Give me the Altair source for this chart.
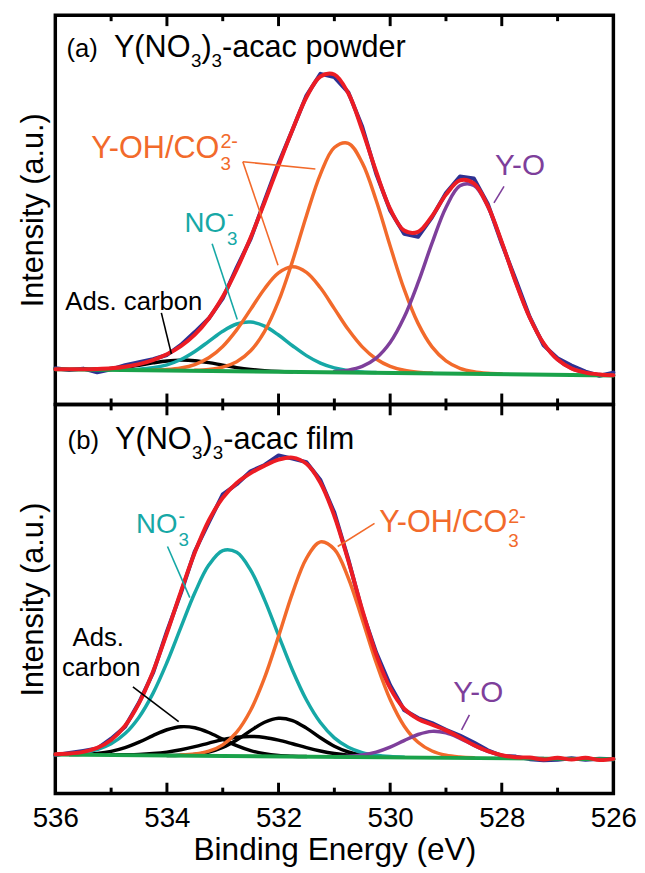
import altair as alt
import pandas as pd

FONT = "Liberation Sans"

# binding-energy sampling grid (eV) shared by every curve
ENERGY = [536.0, 535.75, 535.5, 535.25, 535.0, 534.75, 534.5, 534.25, 534.0,
          533.75, 533.5, 533.25, 533.0, 532.75, 532.5, 532.25, 532.0, 531.75,
          531.5, 531.25, 531.0, 530.75, 530.5, 530.25, 530.0, 529.75, 529.5,
          529.25, 529.0, 528.75, 528.5, 528.25, 528.0, 527.75, 527.5, 527.25,
          527.0, 526.75, 526.5, 526.25, 526.0]

# ---- (a) Y(NO3)3-acac powder -------------------------------------------
A_RAW = [8.7, 8.18, 8.58, 7.46, 8.37, 9.65, 10.55, 11.47, 12.71, 15.77, 19.68,
         23.79, 29.88, 39.27, 47.97, 59.62, 70.98, 81.09, 91.5, 98.1, 97.1,
         92.5, 82.02, 67.77, 56.59, 49.51, 48.63, 54.55, 61.92, 66.93, 66.32,
         58.58, 46.58, 35.6, 24.29, 15.63, 11.71, 9.53, 7.66, 6.41, 7.38]
A_FIT = [8.4, 8.38, 8.38, 8.46, 8.67, 9.15, 9.95, 11.17, 12.91, 15.37, 18.88,
         23.79, 30.38, 38.67, 48.37, 59.12, 70.28, 81.09, 91.0, 97.3, 97.9,
         92.2, 81.02, 68.37, 57.09, 50.51, 50.13, 54.85, 61.42, 65.73, 64.82,
         57.98, 46.98, 34.8, 24.09, 16.23, 11.31, 8.63, 7.36, 6.81, 6.58]
A_BG_E = [536.0, 526.0]
A_BG = [8.4, 6.5]
A_ADS_C = (535.5, [8.38, 8.45, 8.64, 9.04, 9.62, 10.31, 10.9, 11.16, 10.98, 10.4,
                   9.62, 8.88, 8.32, 7.96, 7.74, 7.62])
A_NO3 = (534.75, [8.27, 8.42, 8.83, 9.72, 11.34, 13.79, 16.85, 19.92, 22.12, 22.71,
                  21.46, 18.78, 15.52, 12.52, 10.25, 8.78, 7.97, 7.57, 7.38])
A_OH_1 = (534.25, [8.17, 8.32, 8.77, 9.82, 11.86, 15.31, 20.35, 26.56, 32.85, 37.63,
                   39.49, 37.82, 33.12, 26.8, 20.43, 15.19, 11.51, 9.27, 8.07, 7.5,
                   7.23])
A_OH_2 = (533.5, [8.08, 8.32, 9.02, 10.66, 14.0, 19.92, 29.05, 41.23, 55.01, 67.59,
                  75.72, 77.02, 71.06, 59.63, 45.82, 32.71, 22.31, 15.18, 10.93,
                  8.67, 7.62, 7.15, 6.95])
A_YO = (531.0, [7.7, 8.13, 9.28, 11.78, 16.5, 24.15, 34.66, 46.68, 57.53, 64.08,
                64.18, 57.76, 46.91, 34.78, 24.09, 16.23, 11.31, 8.63, 7.36, 6.81,
                6.58])

# ---- (b) Y(NO3)3-acac film ---------------------------------------------
B_RAW = [11.63, 12.32, 12.93, 13.63, 16.63, 20.25, 27.57, 36.5, 49.08, 60.66,
         73.36, 82.06, 90.56, 93.63, 97.59, 99.47, 102.38, 101.4, 100.32, 94.9,
         85.04, 70.91, 55.11, 42.68, 32.81, 25.32, 22.88, 21.36, 19.34, 17.58,
         15.49, 13.13, 11.42, 11.2, 10.42, 10.11, 10.24, 10.71, 10.27, 10.54, 10.4]
B_FIT = [11.93, 12.12, 12.63, 13.83, 16.23, 20.55, 27.37, 36.9, 48.58, 61.16,
         72.96, 82.66, 89.56, 94.03, 96.99, 99.27, 101.08, 101.7, 99.82, 94.1,
         84.04, 70.51, 55.61, 42.08, 31.91, 25.72, 22.58, 20.86, 19.14, 16.98,
         14.69, 12.83, 11.62, 11.0, 10.92, 10.31, 10.84, 10.31, 10.87, 10.14, 10.5]
B_BG_E = [536.0, 526.0]
B_BG = [11.8, 10.4]
B_ADS_C_1 = (535.75, [11.83, 11.9, 12.18, 12.78, 13.9, 15.56, 17.55, 19.32, 20.24,
                      19.92, 18.49, 16.47, 14.51, 13.0, 12.06, 11.55, 11.32, 11.2])
B_ADS_C_2 = (535.0, [11.71, 11.75, 11.85, 12.11, 12.55, 13.26, 14.2, 15.29, 16.32,
                     17.06, 17.31, 16.99, 16.18, 15.08, 13.92, 12.91, 12.13, 11.62,
                     11.29, 11.12, 11.01])
B_ADS_C_3 = (534.0, [11.56, 11.63, 11.88, 12.57, 13.96, 16.22, 19.05, 21.6, 22.82,
                     22.12, 19.82, 16.9, 14.32, 12.59, 11.63, 11.2, 11.02])
B_NO3 = (536.0, [11.91, 12.06, 12.45, 13.33, 15.06, 18.16, 23.13, 30.34, 39.68,
                 50.33, 60.79, 69.16, 73.57, 73.02, 67.63, 58.64, 47.9, 37.34,
                 28.32, 21.5, 16.87, 14.02, 12.42, 11.61, 11.2, 11.02])
B_OH = (533.75, [11.66, 11.97, 12.83, 14.76, 18.62, 25.24, 35.1, 47.59, 60.68,
                 71.23, 76.19, 73.96, 65.26, 52.71, 39.6, 28.47, 20.49, 15.55,
                 12.89, 11.6, 11.06, 10.83])
B_YO = (531.0, [11.16, 11.3, 11.68, 12.55, 14.05, 16.03, 17.89, 18.83, 18.36,
                16.71, 14.61, 12.81, 11.62, 11.0, 10.72, 10.61])

MAJOR_TICKS = [534, 532, 530, 528]
MINOR_TICKS = [535, 533, 531, 529, 527]
TICK_LABELS = [536, 534, 532, 530, 528, 526]

RED = "#EC1C24"
NAVY = "#2E3192"
ORANGE = "#F26A2B"
TEAL = "#16A8A6"
PURPLE = "#7E3F9B"
GREEN = "#1AA24A"
BLACK = "#000000"

W, H = 565, 394
X_SCALE = alt.Scale(domain=[536, 526], nice=False, zero=False)

TITLE_PT, SUB_PT = 31, 19


def component(spec):
    start, values = spec
    i0 = ENERGY.index(start)
    return pd.DataFrame({"E": ENERGY[i0:i0 + len(values)], "I": values})


def full(values):
    return pd.DataFrame({"E": ENERGY, "I": values})


def formula_title(e, i, tag, rest):
    """Panel heading '(x)  Y(NO3)3-...' with true subscripts."""
    return [
        (e + 0.85, i, tag, 26, BLACK, "left", 0, 0),
        (e, i, "Y(NO", TITLE_PT, BLACK, "left", 0, 0),
        (e, i, "3", SUB_PT, BLACK, "left", 78, 10),
        (e, i, ")", TITLE_PT, BLACK, "left", 88.6, 0),
        (e, i, "3", SUB_PT, BLACK, "left", 98.9, 10),
        (e, i, rest, TITLE_PT, BLACK, "left", 109.5, 0),
    ]


def stacked(e, i, main, sup, sub, size, color, i_sup, i_sub):
    """Label with a superscript stacked over a subscript after it."""
    return [
        (e, i, main, size, color, "right", 0, 0),
        (e, i_sup, sup, 20, color, "left", 1, 0),
        (e, i_sub, sub, 19, color, "left", 1, 0),
    ]


def panel(ydom, curves, labels, leaders, x_axis):
    ys = alt.Scale(domain=ydom, nice=False, zero=False)
    y_axis = alt.Axis(title="Intensity (a.u.)", labels=False, ticks=False,
                      domain=False, grid=False, titleFontSize=31,
                      titleFontWeight="normal", titleFont=FONT, titleColor=BLACK,
                      titleX=-22, titleY=H / 2, titleAngle=270,
                      titleAlign="center", titleBaseline="middle")
    X = lambda: alt.X("E:Q", scale=X_SCALE, axis=x_axis, title="Binding Energy (eV)")
    Y = lambda: alt.Y("I:Q", scale=ys, axis=y_axis)

    layers = []
    for df, color, width, interp in curves:
        layers.append(
            alt.Chart(df).mark_line(color=color, strokeWidth=width,
                                    interpolate=interp, strokeCap="round",
                                    strokeJoin="round")
            .encode(x=X(), y=Y())
        )

    lead = pd.DataFrame(leaders, columns=["E", "I", "E2", "I2", "c"])
    layers.append(
        alt.Chart(lead).mark_rule(strokeWidth=1.6)
        .encode(x=X(), y=Y(), x2="E2:Q", y2="I2:Q",
                color=alt.Color("c:N", scale=None))
    )

    for e, i, text, size, color, align, dx, dy in labels:
        layers.append(
            alt.Chart(pd.DataFrame({"E": [e], "I": [i], "t": [text]}))
            .mark_text(font=FONT, align=align, baseline="alphabetic",
                       fontSize=size, color=color, dx=dx, dy=dy)
            .encode(x=X(), y=Y(), text="t:N")
        )

    # inward-pointing frame ticks
    for ticks, length in [(MAJOR_TICKS, 11), (MINOR_TICKS, 6)]:
        tdf = pd.DataFrame({"E": ticks})
        layers.append(alt.Chart(tdf).mark_rule(color=BLACK, strokeWidth=3)
                      .encode(x=X(), y=alt.value(0), y2=alt.value(length)))
        layers.append(alt.Chart(tdf).mark_rule(color=BLACK, strokeWidth=3)
                      .encode(x=X(), y=alt.value(H), y2=alt.value(H - length)))

    return alt.layer(*layers).properties(width=W, height=H)


panel_a = panel(
    [-2.3, 115.9],
    [
        (full(A_RAW), NAVY, 4, "linear"),
        (component(A_ADS_C), BLACK, 3.5, "catmull-rom"),
        (component(A_NO3), TEAL, 3.5, "catmull-rom"),
        (component(A_OH_1), ORANGE, 3.5, "catmull-rom"),
        (component(A_OH_2), ORANGE, 3.5, "catmull-rom"),
        (component(A_YO), PURPLE, 3.5, "catmull-rom"),
        (pd.DataFrame({"E": A_BG_E, "I": A_BG}), GREEN, 4, "linear"),
        (full(A_FIT), RED, 4, "catmull-rom"),
    ],
    formula_title(534.95, 103.3, "(a)", "-acac powder")
    + stacked(533.06, 72.5, "Y-OH/CO", "2-", "3", 31, ORANGE, 75.6, 69.0)
    + stacked(532.94, 50.0, "NO", "-", "3", 28, TEAL, 53.4, 46.2)
    + [
        (535.82, 26.5, "Ads. carbon", 26, BLACK, "left", 0, 0),
        (528.12, 67.4, "Y-O", 30, PURPLE, "left", 0, 0),
    ],
    [
        (532.64, 71.4, 531.34, 69.2, ORANGE),
        (532.64, 71.4, 532.01, 40.0, ORANGE),
        (533.19, 46.5, 532.74, 23.5, TEAL),
        (534.10, 25.5, 533.92, 13.0, BLACK),
        (527.96, 63.9, 528.14, 58.9, PURPLE),
    ],
    None,
)

x_axis_b = alt.Axis(values=TICK_LABELS, format="d", ticks=False, tickSize=0,
                    domain=False, grid=False, labelFont=FONT, labelFontSize=28,
                    labelPadding=11, labelColor=BLACK, labelFlush=False,
                    labelOverlap=False, titleFont=FONT, titleFontSize=32,
                    titleFontWeight="normal", titleColor=BLACK,
                    titleY=67, titleBaseline="alphabetic")

panel_b = panel(
    [0, 117.8],
    [
        (full(B_RAW), NAVY, 4, "linear"),
        (component(B_ADS_C_1), BLACK, 3.5, "catmull-rom"),
        (component(B_ADS_C_2), BLACK, 3.5, "catmull-rom"),
        (component(B_ADS_C_3), BLACK, 3.5, "catmull-rom"),
        (component(B_NO3), TEAL, 3.5, "catmull-rom"),
        (component(B_OH), ORANGE, 3.5, "catmull-rom"),
        (component(B_YO), PURPLE, 3.5, "catmull-rom"),
        (pd.DataFrame({"E": B_BG_E, "I": B_BG}), GREEN, 4, "linear"),
        (full(B_FIT), RED, 4, "catmull-rom"),
    ],
    formula_title(534.93, 104.3, "(b)", "-acac film")
    + stacked(533.81, 78.8, "NO", "-", "3", 28, TEAL, 81.8, 75.0)
    + stacked(527.9, 79.3, "Y-OH/CO", "2-", "3", 31, ORANGE, 81.8, 74.6)
    + [
        (535.69, 44.8, "Ads.", 26, BLACK, "left", 0, 0),
        (535.88, 35.6, "carbon", 26, BLACK, "left", 0, 0),
        (528.87, 27.6, "Y-O", 30, PURPLE, "left", 0, 0),
    ],
    [
        (533.99, 74.8, 533.59, 59.3, TEAL),
        (530.28, 81.8, 530.94, 74.8, ORANGE),
        (534.61, 32.3, 533.79, 21.8, BLACK),
        (528.58, 23.8, 528.72, 19.3, PURPLE),
    ],
    x_axis_b,
)

chart = (
    alt.vconcat(panel_a, panel_b, spacing=0, bounds="flush")
    .properties(padding={"left": 16, "top": 6, "right": 6, "bottom": 4},
                background="white")
    .configure_view(stroke=BLACK, strokeWidth=3.5)
)

chart.save("out.html", embed_options={"renderer": "svg", "actions": False})
